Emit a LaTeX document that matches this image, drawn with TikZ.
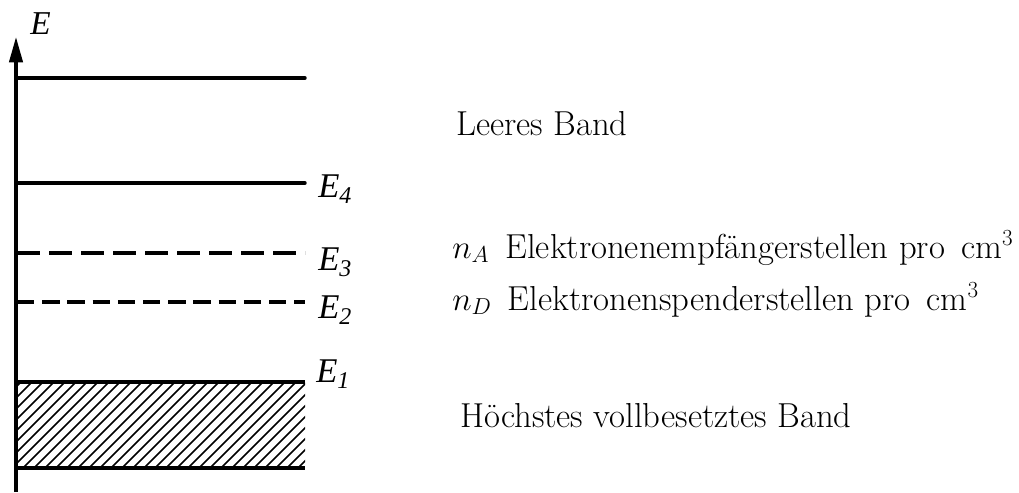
\documentclass[tikz,border=0pt]{standalone}
\usepackage{fontspec}
\usetikzlibrary{arrows.meta}
\newfontfamily\lblfont{Liberation Serif}
\newcommand{\lvl}[1]{{\itshape E}\raisebox{-5pt}{\fontsize{18}{20}\selectfont\itshape #1}}
\begin{document}
\begin{tikzpicture}[x=0.75pt,y=-0.75pt,
  level/.style={line width=2.6pt,line cap=round},
  dlevel/.style={line width=2.6pt},
  hatchline/.style={line width=1.1pt},
  elabel/.style={anchor=base west,inner sep=0pt,font=\lblfont\fontsize{26}{30}\selectfont},
  desc/.style={anchor=base west,inner sep=0pt,font=\fontsize{26}{30}\selectfont}]
\useasboundingbox (0,0) rectangle (1019,492);
% axis
\coordinate (a0) at (16,492);
\coordinate (a1) at (16,37);
\draw[line width=2.4pt,-{Triangle[length=19pt,width=10pt]}] (a0) -- (a1);
\node[elabel,font=\lblfont\fontsize{25}{30}\selectfont] (E) at (30,35) {\itshape E};
% levels
\coordinate (t0) at (17,78); \coordinate (t1) at (305,78);
\draw[level] (t0) -- (t1);
\coordinate (l40) at (17,183); \coordinate (l41) at (305,183);
\draw[level] (l40) -- (l41);
\coordinate (l30) at (17,253); \coordinate (l31) at (305,253);
\draw[dlevel,dash pattern=on 17.5pt off 6.5pt] (l30) -- (l31);
\coordinate (l20) at (17,302); \coordinate (l21) at (305,302);
\draw[dlevel,dash pattern=on 13pt off 5.9pt] (l20) -- (l21);
% hatched band
\begin{scope}
\clip (17,382) rectangle (305,468);
\foreach \i in {-100,-89,...,320} {
  \draw[hatchline] (\i,470) -- ++(92,-92);
}
\end{scope}
\coordinate (b0) at (17,382); \coordinate (b1) at (305,382);
\coordinate (c0) at (17,468); \coordinate (c1) at (305,468);
\draw[level,line cap=butt] (b0) -- (b1);
\draw[level,line cap=butt] (c0) -- (c1);
% labels
\node[elabel] (E4) at (318,197) {\lvl{4}};
\node[elabel] (E3) at (318,270) {\lvl{3}};
\node[elabel] (E2) at (318,318) {\lvl{2}};
\node[elabel] (E1) at (316,382) {\lvl{1}};
% descriptions
\node[desc] (leer) at (456,135) {Leeres Band};
\node[desc] (nA) at (452,258) {$n_A$\, Elektronenempfängerstellen pro\, cm$^3$};
\node[desc] (nD) at (452,310) {$n_D$\, Elektronenspenderstellen pro\, cm$^3$};
\node[desc] (voll) at (460,427) {Höchstes vollbesetztes Band};
\end{tikzpicture}
\end{document}
